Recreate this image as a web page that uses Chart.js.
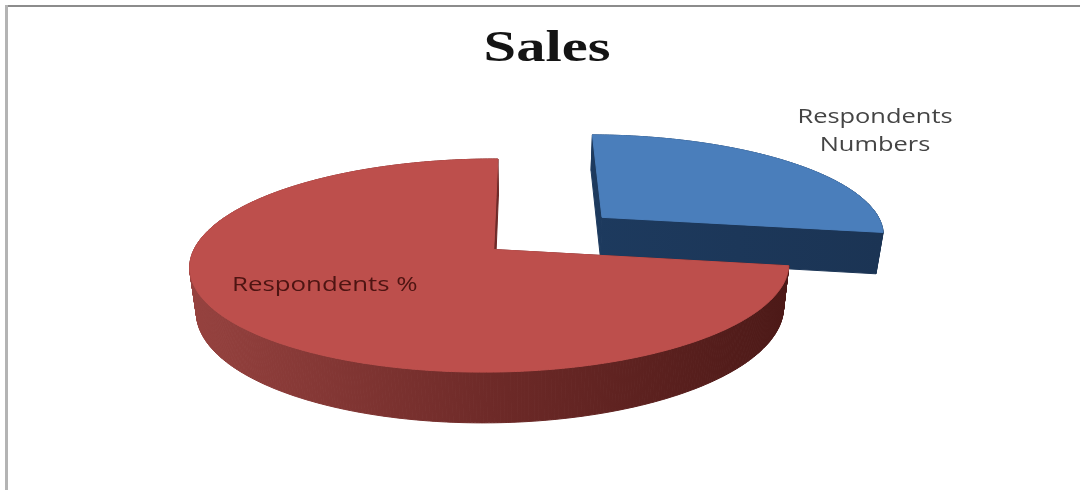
<!DOCTYPE html>
<html>
<head>
<meta charset="utf-8">
<style>
  html, body { margin: 0; padding: 0; background: #fff; }
  #frame { position: relative; width: 1080px; height: 490px; overflow: hidden; }
  #edgeTop { position: absolute; left: 5px; top: 5px; width: 1075px; height: 2px; background: #8c8c8c; }
  #edgeLeft { position: absolute; left: 5px; top: 5px; width: 3px; height: 485px; background: #b4b4b4; }
  canvas { position: absolute; left: 0; top: 0; }
</style>
</head>
<body>
<div id="frame">
  <canvas id="chart" width="1080" height="490"></canvas>
  <div id="edgeTop"></div>
  <div id="edgeLeft"></div>
</div>
<script src="https://cdn.jsdelivr.net/npm/chart.js@4"></script>
<script>
// Chart heading, slice names and their shares of the pie
const chartTitle = 'Sales';
const categories = ['Respondents Numbers', 'Respondents %'];
const shares = [27.5, 72.5];

// Face and wall colours of each slice
const faceColors = ['#4a7ebb', '#bd4f4c'];
const wallStops = [
  ['#1d3a5e', '#1b3454'],
  ['#96423f', '#6e2a28', '#4c1917']
];

// Perspective camera for the tilted disc
const cam = {
  vx: 525, cy: 233,      // vanishing column and disc centre row
  x0: 24.3,              // disc centre relative to the vanishing column
  rx: 288, ry: 99,       // disc radii on screen
  k: 0.1466,             // foreshortening front to back
  yaw: 0.012,            // foreshortening left to right
  depth: 42,             // extrusion height
  shrink: 0.98,          // narrowing of the lower rim
  explode: 0.25          // slice pull-out, as a fraction of the radius
};

const project = (u, v) => {
  const s = 1 / (1 + cam.k * v + cam.yaw * u);
  return { x: cam.vx + (cam.x0 + cam.rx * u) * s, y: cam.cy - cam.ry * v * s, s };
};
const lower = (p) => ({
  x: cam.vx + (p.x - cam.vx) * cam.shrink,
  y: p.y + cam.depth * p.s
});

function tracePath(ctx, pts) {
  ctx.beginPath();
  pts.forEach((p, i) => (i ? ctx.lineTo(p.x, p.y) : ctx.moveTo(p.x, p.y)));
  ctx.closePath();
}

// Text set in a horizontally widened face
function wideText(ctx, text, x, y, widen) {
  ctx.save();
  ctx.translate(x, y);
  ctx.scale(widen, 1);
  ctx.fillText(text, 0, 0);
  ctx.restore();
}

// Draws each arc of the pie as an extruded wedge seen in perspective
const extrudedPie = {
  id: 'extrudedPie',
  beforeDatasetDraw(chart, args) {
    const ctx = chart.ctx;
    const arcs = chart.getDatasetMeta(args.index).data;
    ctx.save();
    arcs.forEach((arc, i) => {
      const start = arc.startAngle + Math.PI / 2;
      const end = arc.endAngle + Math.PI / 2;
      const mid = (start + end) / 2;
      const cu = cam.explode * Math.sin(mid);
      const cv = cam.explode * Math.cos(mid);
      const apex = project(cu, cv);
      const rim = [];
      const steps = Math.ceil((end - start) / 0.01);
      for (let n = 0; n <= steps; n++) {
        const t = start + (end - start) * n / steps;
        rim.push(project(cu + Math.sin(t), cv + Math.cos(t)));
      }
      const xs = rim.map(p => p.x);
      const grad = ctx.createLinearGradient(Math.min(...xs), 0, Math.max(...xs), 0);
      wallStops[i].forEach((c, n, all) => grad.addColorStop(n / (all.length - 1), c));
      ctx.fillStyle = grad;
      ctx.strokeStyle = grad;
      ctx.lineWidth = 1;

      // straight cut faces, then the curved outer wall
      const quad = (a, b) => {
        tracePath(ctx, [a, b, lower(b), lower(a)]);
        ctx.fill();
        ctx.stroke();
      };
      quad(apex, rim[0]);
      quad(apex, rim[rim.length - 1]);
      for (let n = 0; n < rim.length - 1; n++) quad(rim[n], rim[n + 1]);

      // top face
      tracePath(ctx, [apex, ...rim]);
      ctx.fillStyle = faceColors[i];
      ctx.strokeStyle = faceColors[i];
      ctx.fill();
      ctx.stroke();
    });
    ctx.restore();
    return false;
  },
  afterDatasetsDraw(chart) {
    const ctx = chart.ctx;
    ctx.save();
    ctx.textBaseline = 'middle';

    ctx.textAlign = 'center';
    ctx.font = 'bold 44px "Liberation Serif"';
    ctx.fillStyle = '#141414';
    wideText(ctx, chartTitle, 547, 50, 1.33);

    ctx.font = '20.5px "Open Sans"';
    ctx.fillStyle = '#444444';
    const words = categories[0].split(' ');
    wideText(ctx, words[0], 875, 117, 1.24);
    wideText(ctx, words[1], 875, 145, 1.24);

    ctx.textAlign = 'left';
    ctx.fillStyle = '#4d1412';
    wideText(ctx, categories[1], 232, 285, 1.26);
    ctx.restore();
  }
};

new Chart(document.getElementById('chart'), {
  type: 'pie',
  data: {
    labels: categories,
    datasets: [{ data: shares, backgroundColor: faceColors, borderWidth: 0 }]
  },
  options: {
    responsive: false,
    animation: false,
    plugins: {
      legend: { display: false },
      tooltip: { enabled: false }
    }
  },
  plugins: [extrudedPie]
});
</script>
</body>
</html>
